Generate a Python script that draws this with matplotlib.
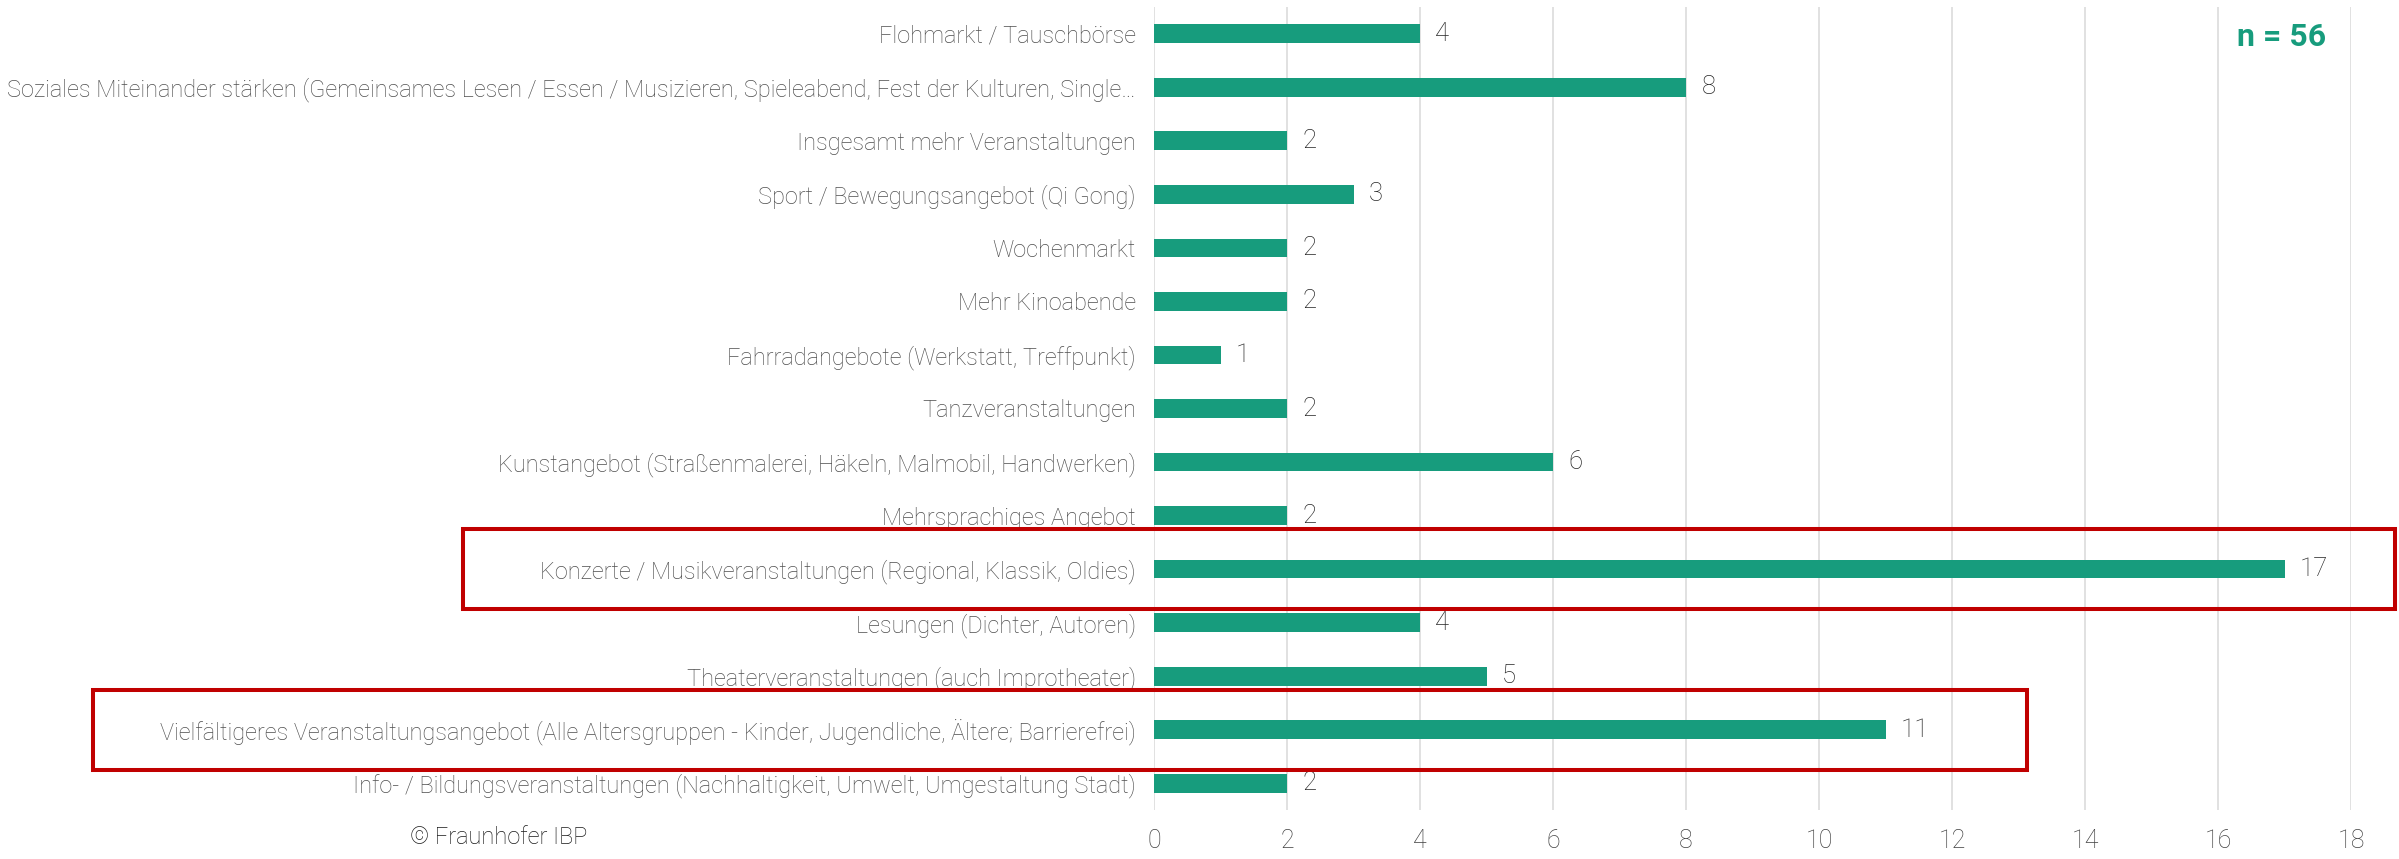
import matplotlib.pyplot as plt
from matplotlib.patches import Rectangle
import matplotlib.transforms as mtransforms

# daten (von oben nach unten)
kategorien = [
    "Flohmarkt / Tauschbörse",
    "Soziales Miteinander stärken (Gemeinsames Lesen / Essen / Musizieren, Spieleabend, Fest der Kulturen, Single…",
    "Insgesamt mehr Veranstaltungen",
    "Sport / Bewegungsangebot (Qi Gong)",
    "Wochenmarkt",
    "Mehr Kinoabende",
    "Fahrradangebote (Werkstatt, Treffpunkt)",
    "Tanzveranstaltungen",
    "Kunstangebot (Straßenmalerei, Häkeln, Malmobil, Handwerken)",
    "Mehrsprachiges Angebot",
    "Konzerte / Musikveranstaltungen (Regional, Klassik, Oldies)",
    "Lesungen (Dichter, Autoren)",
    "Theaterveranstaltungen (auch Improtheater)",
    "Vielfältigeres Veranstaltungsangebot (Alle Altersgruppen - Kinder, Jugendliche, Ältere; Barrierefrei)",
    "Info- / Bildungsveranstaltungen (Nachhaltigkeit, Umwelt, Umgestaltung Stadt)",
]
anzahl = [4, 8, 2, 3, 2, 2, 1, 2, 6, 2, 17, 4, 5, 11, 2]
x_ticks = [0, 2, 4, 6, 8, 10, 12, 14, 16, 18]
# rot markierte zeilen: (index, linker rand, rechter rand in figure-koordinaten)
markiert = [(10, 463 / 2399, 2395 / 2399), (13, 93 / 2399, 2027 / 2399)]
n_text = "n = 56"

gruen = "#179C7D"
rot = "#C00000"
grau = "#4F4F4F"

plt.rcParams['font.family'] = ['Roboto', 'DejaVu Sans']

fig = plt.figure(figsize=(23.99, 8.59), dpi=100)
ax = fig.add_axes([1154 / 2399, 1 - 810 / 859, (2351 - 1154) / 2399, (810 - 7) / 859])

y = list(range(len(kategorien)))
ax.barh(y, anzahl, height=0.35, color=gruen, zorder=3)
ax.set_ylim(len(kategorien) - 0.5, -0.5)
ax.set_xlim(0, 18)

ax.set_yticks(y)
ax.set_yticklabels(kategorien, fontsize=16.9, color=grau, fontweight='light')
ax.set_xticks(x_ticks)
ax.set_xticklabels([str(t) for t in x_ticks], fontsize=18, color='#404040', fontweight='light')
ax.tick_params(axis='y', length=0, pad=13)
ax.tick_params(axis='x', length=0, pad=14)

for s in ax.spines.values():
    s.set_visible(False)
ax.grid(axis='x', color='#D9D9D9', linewidth=1.1, zorder=0)
ax.grid(axis='y', visible=False)

# werte an die balken
for yi, v in zip(y, anzahl):
    ax.annotate(str(v), (v, yi), xytext=(11, 0), textcoords='offset points',
                va='center', ha='left', fontsize=18.5, color='#262626', fontweight='light')

# rote rahmen
trans = mtransforms.blended_transform_factory(fig.transFigure, ax.transData)
for idx, x0, x1 in markiert:
    rect = Rectangle((x0, idx - 0.745), x1 - x0, 1.49, transform=trans,
                     fill=False, edgecolor=rot, linewidth=2.9, clip_on=False, zorder=5)
    fig.add_artist(rect)

fig.text(2282 / 2399, 1 - 37 / 859, n_text, ha='center', va='center',
         fontsize=23, fontweight='bold', color=gruen)
fig.text(410 / 2399, 1 - 838 / 859, "© Fraunhofer IBP", ha='left', va='center',
         fontsize=17, color='#1A1A1A', fontweight='light')

fig.savefig("out.png", dpi=100)
